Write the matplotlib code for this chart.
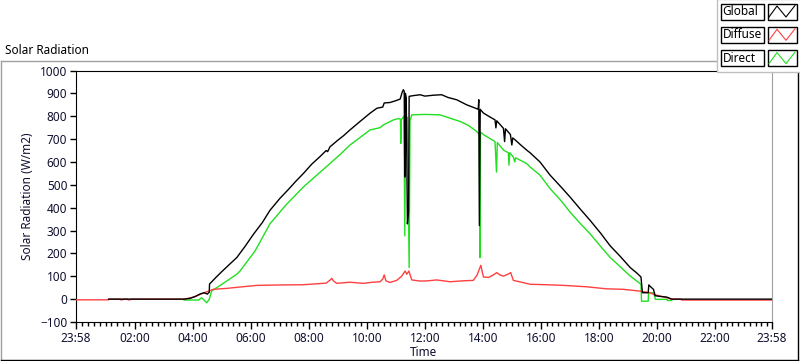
import matplotlib
matplotlib.use("Agg")
import matplotlib.pyplot as plt
from matplotlib.ticker import FixedLocator
from matplotlib.patches import Rectangle
from matplotlib.lines import Line2D

plt.rcParams['font.family'] = ['Noto Sans', 'DejaVu Sans']

# ---------------- data (hours since 00:00, W/m2) ----------------
global_t = [1.10, 3.70, 3.90, 4.10, 4.26, 4.40, 4.50, 4.57, 4.58, 4.80, 5.00, 5.25, 5.52, 5.80, 6.10,
            6.40, 6.66, 7.00, 7.30, 7.55, 7.81, 8.10, 8.40, 8.60, 8.65, 8.73, 9.00, 9.20, 9.42, 9.70,
            10.11, 10.35, 10.55, 10.60, 10.80, 11.00, 11.15, 11.22, 11.26, 11.29, 11.31, 11.33, 11.36,
            11.40, 11.44, 11.46, 11.60, 11.84, 12.00, 12.30, 12.58, 12.80, 13.10, 13.44, 13.73, 13.84,
            13.86, 13.88, 13.91, 14.02, 14.20, 14.42, 14.45, 14.48, 14.71, 14.75, 14.78, 14.95, 15.00,
            15.03, 15.10, 15.30, 15.51, 15.63, 15.97, 16.32, 16.70, 17.01, 17.35, 17.70, 18.05, 18.39,
            18.75, 19.08, 19.30, 19.45, 19.50, 19.70, 19.72, 19.80, 19.88, 19.94, 20.10, 20.34, 20.51,
            23.9667]
global_v = [0, 0, 3, 12, 23, 28, 22, 30, 66, 95, 120, 150, 182, 230, 285,
            335, 388, 440, 480, 515, 549, 590, 625, 650, 645, 666, 695, 715, 740, 770,
            813, 835, 840, 858, 860, 868, 875, 905, 916, 909, 534, 900, 880,
            329, 380, 887, 890, 894, 888, 892, 894, 882, 872, 850, 836, 830,
            872, 322, 830, 814, 800, 784, 749, 780, 747, 689, 745, 720, 674,
            705, 698, 675, 652, 640, 600, 542, 490, 446, 395, 344, 290, 233,
            185, 138, 115, 97, 28, 28, 62, 52, 43, 15, 12, 9, 0,
            0]

diffuse_t = [-0.0333, 1.10, 1.12, 1.50, 1.52, 1.58, 1.60, 1.75, 1.77, 1.85, 1.87, 3.70, 4.00, 4.20,
             4.48, 4.71, 5.17, 5.63, 6.20, 7.00, 7.80, 8.39, 8.60, 8.75, 8.79, 8.85, 8.96, 9.42, 9.88,
             10.20, 10.46, 10.55, 10.60, 10.66, 10.80, 11.03, 11.20, 11.32, 11.38, 11.45, 11.55, 11.84,
             12.10, 12.41, 12.87, 13.30, 13.67, 13.80, 13.93, 14.02, 14.20, 14.35, 14.48, 14.60, 14.71,
             14.85, 14.96, 15.05, 15.40, 15.63, 16.20, 16.80, 17.58, 18.27, 18.84, 19.42, 19.77, 19.88,
             20.34, 20.50, 20.83, 20.85, 23.9667]
diffuse_v = [-3, -3, 0, 0, -3, -3, 0, 0, -3, -3, 0, 0, 8, 18,
             32, 43, 47, 53, 60, 62, 63, 68, 70, 85, 91, 80, 69, 74, 69,
             74, 76, 88, 106, 80, 73, 82, 100, 123, 109, 123, 84, 79,
             80, 84, 76, 80, 82, 105, 148, 97, 95, 105, 116, 105, 101,
             108, 116, 82, 72, 65, 63, 60, 54, 45, 43, 35, 28, 21,
             6, 0, 0, -4, -4]

direct_t = [3.70, 4.20, 4.31, 4.43, 4.48, 4.57, 4.65, 5.17, 5.52, 5.63, 6.15, 6.66, 7.20, 7.81, 8.30,
            8.73, 9.10, 9.42, 9.80, 10.11, 10.46, 10.57, 10.92, 11.10, 11.16, 11.17, 11.19, 11.28,
            11.31, 11.34, 11.40, 11.46, 11.49, 11.55, 12.00, 12.52, 12.90, 13.22, 13.50, 13.79, 13.88,
            13.90, 13.92, 14.04, 14.42, 14.47, 14.50, 14.71, 14.88, 14.90, 14.93, 15.05, 15.10, 15.13,
            15.51, 15.63, 15.97, 16.32, 16.70, 17.01, 17.35, 17.70, 18.05, 18.39, 18.75, 19.08, 19.45,
            19.47, 19.70, 19.71, 19.88, 19.92, 19.95, 20.35, 20.37, 20.51]
direct_v = [-4, -4, 6, -9, -16, -1, 35, 79, 109, 123, 211, 329, 410, 490, 545,
            593, 635, 674, 710, 740, 750, 762, 784, 790, 787, 681, 785, 800,
            277, 790, 795, 138, 780, 806, 808, 806, 790, 777, 760, 733, 720,
            182, 730, 718, 689, 556, 685, 652, 640, 586, 640, 622, 600, 618,
            593, 578, 542, 483, 430, 380, 332, 285, 232, 182, 140, 101, 65,
            -9, -9, 28, 28, 13, -1, -1, -6, -6]

series_names = ["Global", "Diffuse", "Direct"]
series_colors = ["#000000", "#ff4040", "#20e020"]

x_ticks = [-2/60, 2, 4, 6, 8, 10, 12, 14, 16, 18, 20, 22, 24 - 2/60]
x_labels = ["23:58", "02:00", "04:00", "06:00", "08:00", "10:00", "12:00",
            "14:00", "16:00", "18:00", "20:00", "22:00", "23:58"]
y_ticks = [-100, 0, 100, 200, 300, 400, 500, 600, 700, 800, 900, 1000]

# ---------------- figure ----------------
W, H = 800, 361
fig = plt.figure(figsize=(W/100, H/100), dpi=100)
fig.patch.set_facecolor("white")

ax = fig.add_axes([75.7/W, 1 - 322/H, (772 - 75.7)/W, (322 - 70.5)/H])
ax.plot(direct_t, direct_v, color=series_colors[2], lw=1.0, zorder=2)
ax.plot(diffuse_t, diffuse_v, color=series_colors[1], lw=1.0, zorder=3)
ax.plot(global_t, global_v, color=series_colors[0], lw=1.0, zorder=4)

ax.set_xlim(-2/60, 24 - 2/60)
ax.set_ylim(-100, 1000)
ax.set_xticks(x_ticks)
ax.set_xticklabels(x_labels)
minor = [m * 0.2 for m in range(1, 120) if abs(m * 0.2 - round(m * 0.2 / 2) * 2) > 1e-6]
ax.xaxis.set_minor_locator(FixedLocator(minor))
ax.set_yticks(y_ticks)
tc = "#101030"
ax.tick_params(axis="both", which="major", labelsize=8.5, colors="#000000", labelcolor=tc,
               length=4, width=1, direction="out", pad=2)
ax.tick_params(axis="x", which="major", length=5)
ax.tick_params(axis="x", which="minor", length=3, width=1, color="#000000")
for s in ["left", "top", "bottom"]:
    ax.spines[s].set_color("#000000")
ax.spines["right"].set_color("#a0a0a0")
ax.set_xlabel("Time", fontsize=8.5, color=tc, labelpad=1)
ax.set_ylabel("Solar Radiation (W/m2)", fontsize=8.5, color=tc, labelpad=4)

# ---------------- decorations (pixel overlay) ----------------
ov = fig.add_axes([0, 0, 1, 1], zorder=-1)
ov.set_xlim(0, W)
ov.set_ylim(H, 0)
ov.axis("off")
ov.add_line(Line2D([1, 717], [61, 61], color="#a0a0a0", lw=1))
ov.add_line(Line2D([1, 1], [61, 360], color="#a0a0a0", lw=1))
ov.add_line(Line2D([1, 797.5], [359.5, 359.5], color="#000000", lw=1))
ov.add_line(Line2D([797.5, 797.5], [72, 360], color="#000000", lw=1))
ov.text(5, 50, "Solar Radiation", fontsize=8.5, color="#000000", va="center", ha="left")

lg = fig.add_axes([0, 0, 1, 1], zorder=5)
lg.set_xlim(0, W)
lg.set_ylim(H, 0)
lg.axis("off")
lg.patch.set_alpha(0)
lg.add_patch(Rectangle((717, -1), 84, 73, facecolor="white", edgecolor="#c0c0c0", lw=1))
for i, (name, col) in enumerate(zip(series_names, series_colors)):
    y0 = 3.5 + i * 23.3
    lg.add_patch(Rectangle((720.5, y0), 43, 16, facecolor="white", edgecolor="#000000", lw=1))
    lg.add_patch(Rectangle((767.5, y0), 29, 16, facecolor="white", edgecolor="#000000", lw=1))
    lg.text(722.5, y0 + 8, name, fontsize=8.5, color="#000000", va="center", ha="left")
    lg.add_line(Line2D([769, 777, 786, 795], [y0 + 13.5, y0 + 2.5, y0 + 13.5, y0 + 2],
                       color=col, lw=0.8))

fig.savefig("out.png", dpi=100)
